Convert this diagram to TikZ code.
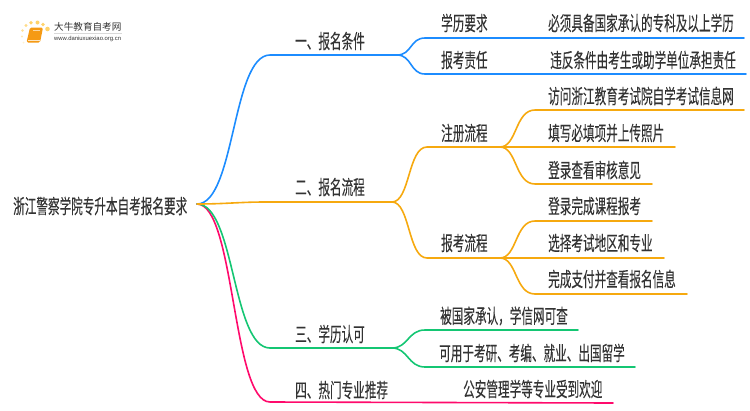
\documentclass[tikz,border=0pt]{standalone}
\usepackage{fontspec}
\setmainfont{Noto Sans CJK SC}[RawFeature={embolden=0.15}]
\newfontfamily\logofont{Noto Sans CJK SC}
\newfontfamily\urlfont{Liberation Sans}
\usetikzlibrary{positioning}
\definecolor{bluebr}{HTML}{1C8CFF}
\definecolor{orangebr}{HTML}{F6A90F}
\definecolor{greenbr}{HTML}{14C673}
\definecolor{pinkbr}{HTML}{FF0A6C}
\definecolor{txtc}{HTML}{333333}
\definecolor{sundot}{HTML}{FFD36B}
\definecolor{bookc}{HTML}{F59A14}

\begin{document}
\begin{tikzpicture}
  [x=1pt,y=-1pt,
  lbl/.style={anchor=west,inner sep=0pt,text=txtc,font=\fontsize{11.6pt}{12pt}\selectfont,yscale=1.72,transform shape},
  br/.style={line width=1.6pt,line cap=round},
  logotxt/.style={anchor=west,inner sep=0pt,text=txtc}]
  \useasboundingbox (0,0) rectangle (750,410);

  % logo
  \fill[sundot] (47.5,29) circle (2.3);
  \fill[sundot] (43,24.5) circle (1.9);
  \fill[sundot] (37.5,22.5) circle (2);
  \fill[sundot] (31,22.8) circle (1.9);
  \fill[sundot,opacity=0.8] (26,25.5) circle (1.6);
  \fill[sundot,opacity=0.7] (22.5,30.5) circle (1.3);
  \fill[sundot,opacity=0.5] (22,36.5) circle (1.2);
  \fill[sundot,opacity=0.3] (23.5,42.5) circle (1);
  \fill[bookc,rounded corners=1.5pt] (30,27.5) -- (43,27.5) -- (40,42.5) -- (26.5,42.5) -- cycle;
  \draw[white!75!bookc,line width=0.8pt] (28,40) -- (39.5,40);
  \draw[white!60!bookc,line width=0.4pt] (33,30.5) -- (40,30.5);
  \node[logotxt] (logoname) at (54,27) {\logofont\fontsize{9.6pt}{10pt}\selectfont 大牛教育自考网};
  \node[logotxt] (logourl) at (54,38.5) {\urlfont\fontsize{5.9pt}{6pt}\selectfont www.daniuxuexiao.org.cn};
  \draw[black!15,line width=0.5pt] (54,33) -- (122,33);

  \node[lbl] (root) at (13,206) {浙江警察学院专升本自考报名要求};
  \coordinate (rootout) at (197,204);

  \node[lbl] (t1) at (295,41) {一、报名条件};
  \node[lbl] (t2) at (295,187) {二、报名流程};
  \node[lbl] (t3) at (295,334) {三、学历认可};
  \node[lbl] (t4) at (295,390) {四、热门专业推荐};

  \node[lbl] (t11) at (441,23) {学历要求};
  \node[lbl] (t12) at (441,60) {报考责任};
  \node[lbl] (t21) at (441,133) {注册流程};
  \node[lbl] (t22) at (441,243) {报考流程};
  \node[lbl] (t111) at (548,23) {必须具备国家承认的专科及以上学历};
  \node[lbl] (t121) at (550,60) {违反条件由考生或助学单位承担责任};
  \node[lbl] (t211) at (548,96) {访问浙江教育考试院自学考试信息网};
  \node[lbl] (t212) at (548,133) {填写必填项并上传照片};
  \node[lbl] (t213) at (548,170) {登录查看审核意见};
  \node[lbl] (t221) at (548,206) {登录完成课程报考};
  \node[lbl] (t222) at (548,243) {选择考试地区和专业};
  \node[lbl] (t223) at (548,279) {完成支付并查看报名信息};
  \node[lbl] (t31) at (440,316) {被国家承认，学信网可查};
  \node[lbl] (t32) at (439,353) {可用于考研、考编、就业、出国留学};
  \node[lbl] (t41) at (463,389) {公安管理学等专业受到欢迎};

  \coordinate (a0) at (270,55);
  \coordinate (a1) at (397,55);
  \coordinate (a11) at (425,38);
  \coordinate (a11e) at (744,38);
  \coordinate (a12) at (425,74);
  \coordinate (a12e) at (746,74);

  \coordinate (b0) at (265,202);
  \coordinate (b1) at (392,202);
  \coordinate (b2) at (427,147);
  \coordinate (b2e) at (500,147);
  \coordinate (b3) at (427,258);
  \coordinate (b3e) at (500,258);
  \coordinate (b21) at (535,110);
  \coordinate (b21e) at (744,110);
  \coordinate (b22e) at (675,147);
  \coordinate (b23) at (535,184);
  \coordinate (b23e) at (652,184);
  \coordinate (b31) at (535,221);
  \coordinate (b31e) at (652,221);
  \coordinate (b32e) at (664,258);
  \coordinate (b33) at (535,294);
  \coordinate (b33e) at (687,294);

  \coordinate (c0) at (270,348);
  \coordinate (c1) at (392,348);
  \coordinate (c11) at (425,330);
  \coordinate (c11e) at (578,330);
  \coordinate (c12) at (425,367);
  \coordinate (c12e) at (635,367);

  \coordinate (d0) at (270,402);
  \coordinate (d1) at (613,403);

  \draw[br,pinkbr] (rootout) .. controls (235,204) and (232,402) .. (d0) -- (d1);
  \draw[br,greenbr] (rootout) .. controls (235,204) and (232,348) .. (c0) -- (c1);
  \draw[br,greenbr] (c1) .. controls (408,348) and (408,330) .. (c11) -- (c11e);
  \draw[br,greenbr] (c1) .. controls (408,348) and (408,367) .. (c12) -- (c12e);

  \draw[br,bluebr] (rootout) .. controls (235,204) and (232,55) .. (a0) -- (a1);
  \draw[br,bluebr] (a1) .. controls (412,55) and (410,38) .. (a11) -- (a11e);
  \draw[br,bluebr] (a1) .. controls (412,55) and (410,74) .. (a12) -- (a12e);

  \draw[br,orangebr] (rootout) .. controls (225,204) and (240,202) .. (b0) -- (b1);
  \draw[br,orangebr] (b1) .. controls (410,202) and (408,147) .. (b2) -- (b2e);
  \draw[br,orangebr] (b1) .. controls (410,202) and (408,258) .. (b3) -- (b3e);
  \draw[br,orangebr] (b2e) .. controls (517,147) and (515,110) .. (b21) -- (b21e);
  \draw[br,orangebr] (b2e) -- (b22e);
  \draw[br,orangebr] (b2e) .. controls (517,147) and (515,184) .. (b23) -- (b23e);
  \draw[br,orangebr] (b3e) .. controls (517,258) and (515,221) .. (b31) -- (b31e);
  \draw[br,orangebr] (b3e) -- (b32e);
  \draw[br,orangebr] (b3e) .. controls (517,258) and (515,294) .. (b33) -- (b33e);
\end{tikzpicture}
\end{document}
